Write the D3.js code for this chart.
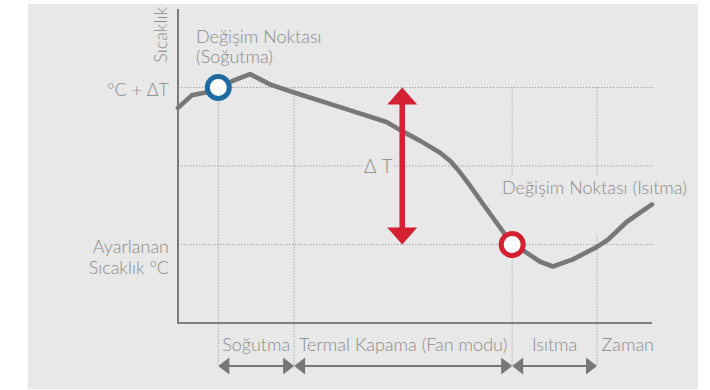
<!DOCTYPE html>
<html>
<head>
<meta charset="utf-8">
<script src="https://cdn.jsdelivr.net/npm/d3@7"></script>
<style>
  html, body { margin: 0; padding: 0; background: #ffffff; }
  svg text { font-family: Lato, "Open Sans", sans-serif; font-weight: 300; fill: #8a8a8a; }
</style>
</head>
<body>
<svg id="chart" width="710" height="390"></svg>
<script>
// Temperature trace over time (time 0..100, temperature in ΔT steps, 0 = set point)
const timeValues = [0, 2.9, 6.1, 8.5, 11.4, 15.2, 19.4, 24.3, 34.2, 44.0, 46.8, 51.1, 55.3, 57.5, 59.5, 61.6, 63.7, 67.9, 70.5, 73.2, 76.4, 79.1, 83.3, 88.4, 90.7, 94.7, 100];
const tempValues = [1.74, 1.90, 1.94, 2.0, 2.08, 2.17, 2.04, 1.94, 1.75, 1.56, 1.46, 1.32, 1.17, 1.06, 0.92, 0.75, 0.57, 0.22, 0, -0.09, -0.22, -0.28, -0.19, -0.03, 0.06, 0.29, 0.51];

// Phase boundaries on the time axis and their names
const phaseBounds = [8.5, 24.5, 70.5, 88.4];
const phaseNames = ["Soğutma", "Termal Kapama (Fan modu)", "Isıtma"];
const timeLabel = "Zaman";
const tempLabel = "Sıcaklık";

// Reference temperature levels
const levelValues = [2, 1, 0];
const levelLabels = [["°C + ΔT"], [], ["Ayarlanan", "Sıcaklık °C"]];
const deltaLabel = "Δ T";
const deltaTime = 47.3;

// Switching points
const switchTimes = [8.5, 70.5];
const switchTemps = [2, 0];
const switchLabels = [["Değişim Noktası", "(Soğutma)"], ["Değişim Noktası (Isıtma)"]];
const switchColors = ["#1f6aa0", "#d51f32"];

const svg = d3.select("#chart");
const bg = "#e8e8e8";
const gridColor = "#9a9a9a";
const lineColor = "#787878";
const red = "#d51f32";

svg.append("rect").attr("x", 28).attr("y", 4).attr("width", 670).attr("height", 385).attr("fill", bg);

const x = d3.scaleLinear().domain([0, 100]).range([178, 652]);
const y = d3.scaleLinear().domain([-1, 3]).range([323, 9]);

// Dotted horizontal levels
svg.append("g").selectAll("line").data(levelValues).join("line")
  .attr("x1", x(0)).attr("x2", x(100) + 1)
  .attr("y1", d => y(d)).attr("y2", d => y(d))
  .attr("stroke", gridColor).attr("stroke-width", 1).attr("stroke-dasharray", "1.2,1.8");

// Dotted vertical phase markers
const bottomY = 366;
svg.append("g").selectAll("line").data(phaseBounds).join("line")
  .attr("x1", d => x(d)).attr("x2", d => x(d))
  .attr("y1", y(2)).attr("y2", bottomY)
  .attr("stroke", gridColor).attr("stroke-width", 1).attr("stroke-dasharray", "1.2,1.8");

// Knockouts behind the labels
svg.append("rect").attr("x", x(deltaTime) - 40).attr("y", y(1) - 8).attr("width", 32).attr("height", 16).attr("fill", bg);
svg.append("rect").attr("x", 500).attr("y", 177).attr("width", 190).attr("height", 58).attr("fill", bg);

// Axes
svg.append("path")
  .attr("d", `M${x(0)},${y(3)}V${y(-1)}H${x(100)}`)
  .attr("fill", "none").attr("stroke", "#5e5e5e").attr("stroke-width", 1.6);

// Temperature trace
const line = d3.line().x((d, i) => x(timeValues[i])).y(d => y(d)).curve(d3.curveLinear);
svg.append("path").datum(tempValues)
  .attr("d", line)
  .attr("fill", "none").attr("stroke", lineColor).attr("stroke-width", 4.6)
  .attr("stroke-linecap", "round").attr("stroke-linejoin", "round");

// ΔT double arrow
const ax = x(deltaTime);
const headH = 17, headW = 15;
svg.append("line").attr("x1", ax).attr("x2", ax).attr("y1", y(2) + headH - 1).attr("y2", y(0) - headH + 1)
  .attr("stroke", red).attr("stroke-width", 5.5);
svg.append("path").attr("d", `M${ax},${y(2)}L${ax + headW},${y(2) + headH}H${ax - headW}Z`).attr("fill", red);
svg.append("path").attr("d", `M${ax},${y(0)}L${ax + headW},${y(0) - headH}H${ax - headW}Z`).attr("fill", red);
svg.append("text").attr("x", ax - 24).attr("y", y(1) + 7).attr("text-anchor", "middle")
  .style("font-size", "19px").text(deltaLabel);

// Switching point markers
svg.append("g").selectAll("circle").data(switchTimes).join("circle")
  .attr("cx", d => x(d)).attr("cy", (d, i) => y(switchTemps[i]))
  .attr("r", 11).attr("fill", "#ffffff")
  .attr("stroke", (d, i) => switchColors[i]).attr("stroke-width", 5);

// Switching point labels
const sw1 = svg.append("text").style("font-size", "18px");
switchLabels[0].forEach((t, i) => sw1.append("tspan").attr("x", 196).attr("y", 43 + i * 20).text(t));
svg.append("text").style("font-size", "18px").attr("x", 502).attr("y", 194).text(switchLabels[1][0]);

// Level labels on the temperature axis
levelValues.forEach((v, k) => {
  const lines = levelLabels[k];
  if (!lines.length) return;
  const t = svg.append("text").attr("text-anchor", "end").style("font-size", "18px");
  lines.forEach((s, i) => t.append("tspan").attr("x", 169).attr("y", y(v) + 8 + i * 21).text(s));
});

// Axis titles
svg.append("text").attr("transform", `translate(166.5,7) rotate(-90)`).attr("text-anchor", "end")
  .style("font-size", "18px").text(tempLabel);
svg.append("text").attr("x", 654).attr("y", 351).attr("text-anchor", "end")
  .style("font-size", "18px").text(timeLabel);

// Phase names and dimension arrows
const arrowColor = "#777777";
phaseNames.forEach((name, i) => {
  const a = x(phaseBounds[i]), b = x(phaseBounds[i + 1]);
  svg.append("text").attr("x", (a + b) / 2).attr("y", 351).attr("text-anchor", "middle")
    .style("font-size", "18px").text(name);
  svg.append("line").attr("x1", a + 6).attr("x2", b - 6).attr("y1", bottomY).attr("y2", bottomY)
    .attr("stroke", arrowColor).attr("stroke-width", 2);
  svg.append("path").attr("d", `M${a},${bottomY}L${a + 11},${bottomY - 8.5}V${bottomY + 8.5}Z`).attr("fill", arrowColor);
  svg.append("path").attr("d", `M${b},${bottomY}L${b - 11},${bottomY - 8.5}V${bottomY + 8.5}Z`).attr("fill", arrowColor);
});
</script>
</body>
</html>
